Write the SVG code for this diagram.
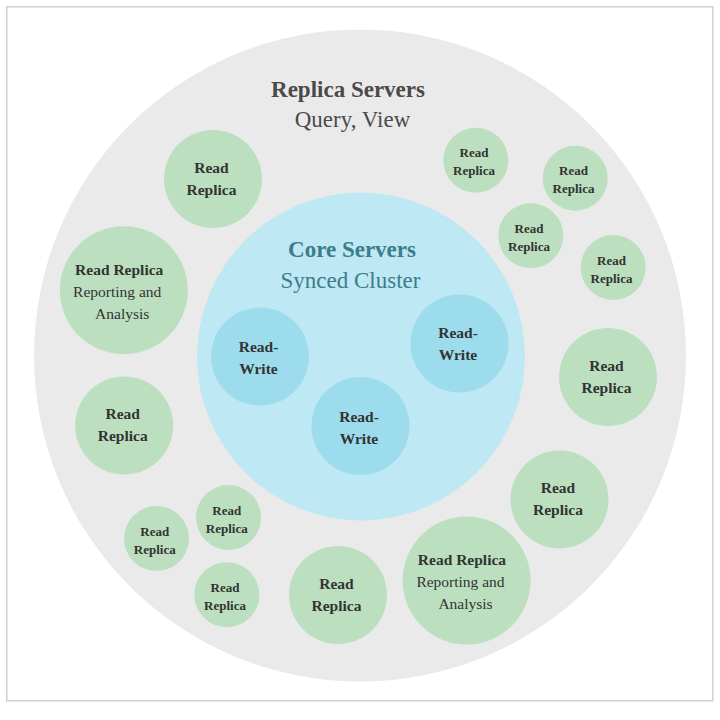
<svg xmlns="http://www.w3.org/2000/svg" width="720" height="720" viewBox="0 0 720 720">
<style>
  .frame { fill: #ffffff; stroke: #d0d0d0; stroke-width: 1.5; }
  .outer { fill: #eaeaea; }
  .core { fill: #bee8f3; }
  .rw { fill: #9cdced; }
  .rep { fill: #bce0bf; }
  text { font-family: "Liberation Serif", "Times New Roman", serif; text-anchor: middle; fill: #333333; }
  .b { font-weight: bold; font-size: 15.5px; }
  .r { font-size: 15.5px; }
  .s { font-weight: bold; font-size: 13px; }
  .title { font-weight: bold; font-size: 23px; fill: #4a4a4a; }
  .sub { font-size: 23px; fill: #4a4a4a; }
  .ctitle { font-weight: bold; font-size: 23px; fill: #3b7d8c; }
  .csub { font-size: 23px; fill: #3b7d8c; }
</style>
<rect class="frame" x="6.75" y="6.75" width="706" height="694"/>
<g id="replica-servers">
  <circle class="outer" cx="360" cy="355.5" r="326"/>
  <text class="title" x="348" y="97">Replica Servers</text>
  <text class="sub" x="352.5" y="127">Query, View</text>
</g>
<g id="core-servers">
  <circle class="core" cx="361" cy="356.5" r="164"/>
  <text class="ctitle" x="352" y="257">Core Servers</text>
  <text class="csub" x="350.5" y="288">Synced Cluster</text>
</g>
<g id="rw1">
  <circle class="rw" cx="260" cy="356.5" r="49"/>
  <text class="b" x="258.5" y="352">Read-</text>
  <text class="b" x="258.5" y="374">Write</text>
</g>
<g id="rw2">
  <circle class="rw" cx="459.5" cy="343.5" r="49"/>
  <text class="b" x="458" y="338">Read-</text>
  <text class="b" x="458" y="360">Write</text>
</g>
<g id="rw3">
  <circle class="rw" cx="360.5" cy="426" r="49"/>
  <text class="b" x="359" y="421.5">Read-</text>
  <text class="b" x="359" y="443.5">Write</text>
</g>
<g id="rr1">
  <circle class="rep" cx="213" cy="179" r="49"/>
  <text class="b" x="211.5" y="172.5">Read</text>
  <text class="b" x="211.5" y="194.5">Replica</text>
</g>
<g id="rr2">
  <circle class="rep" cx="123.8" cy="290.2" r="64"/>
  <text class="b" x="119.2" y="275">Read Replica</text>
  <text class="r" x="117.2" y="296.7">Reporting and</text>
  <text class="r" x="122.2" y="319">Analysis</text>
</g>
<g id="rr3">
  <circle class="rep" cx="124.2" cy="425.5" r="49"/>
  <text class="b" x="122.7" y="419">Read</text>
  <text class="b" x="122.7" y="441">Replica</text>
</g>
<g id="rr4">
  <circle class="rep" cx="475.8" cy="160.2" r="32.5"/>
  <text class="s" x="474" y="157.2">Read</text>
  <text class="s" x="474" y="175.2">Replica</text>
</g>
<g id="rr5">
  <circle class="rep" cx="575.2" cy="178.3" r="32.5"/>
  <text class="s" x="573.5" y="175.3">Read</text>
  <text class="s" x="573.5" y="193.3">Replica</text>
</g>
<g id="rr6">
  <circle class="rep" cx="530.8" cy="235.8" r="32.5"/>
  <text class="s" x="529" y="232.8">Read</text>
  <text class="s" x="529" y="250.8">Replica</text>
</g>
<g id="rr7">
  <circle class="rep" cx="613.2" cy="267.5" r="32.5"/>
  <text class="s" x="611.5" y="264.5">Read</text>
  <text class="s" x="611.5" y="282.5">Replica</text>
</g>
<g id="rr8">
  <circle class="rep" cx="608" cy="377" r="49"/>
  <text class="b" x="606.5" y="370.7">Read</text>
  <text class="b" x="606.5" y="392.7">Replica</text>
</g>
<g id="rr9">
  <circle class="rep" cx="559.5" cy="499.4" r="49"/>
  <text class="b" x="558" y="493">Read</text>
  <text class="b" x="558" y="515">Replica</text>
</g>
<g id="rr10">
  <circle class="rep" cx="466.6" cy="580.5" r="64"/>
  <text class="b" x="462" y="565">Read Replica</text>
  <text class="r" x="460.5" y="586.7">Reporting and</text>
  <text class="r" x="465.5" y="609">Analysis</text>
</g>
<g id="rr11">
  <circle class="rep" cx="338" cy="595" r="49"/>
  <text class="b" x="336.5" y="588.5">Read</text>
  <text class="b" x="336.5" y="610.5">Replica</text>
</g>
<g id="rr12">
  <circle class="rep" cx="228.5" cy="517.5" r="32.5"/>
  <text class="s" x="226.8" y="514.5">Read</text>
  <text class="s" x="226.8" y="532.5">Replica</text>
</g>
<g id="rr13">
  <circle class="rep" cx="156.5" cy="538.5" r="32.5"/>
  <text class="s" x="154.8" y="535.5">Read</text>
  <text class="s" x="154.8" y="553.5">Replica</text>
</g>
<g id="rr14">
  <circle class="rep" cx="226.8" cy="594.8" r="32.5"/>
  <text class="s" x="225" y="591.8">Read</text>
  <text class="s" x="225" y="609.8">Replica</text>
</g>
<g id="connectors"></g>
</svg>
